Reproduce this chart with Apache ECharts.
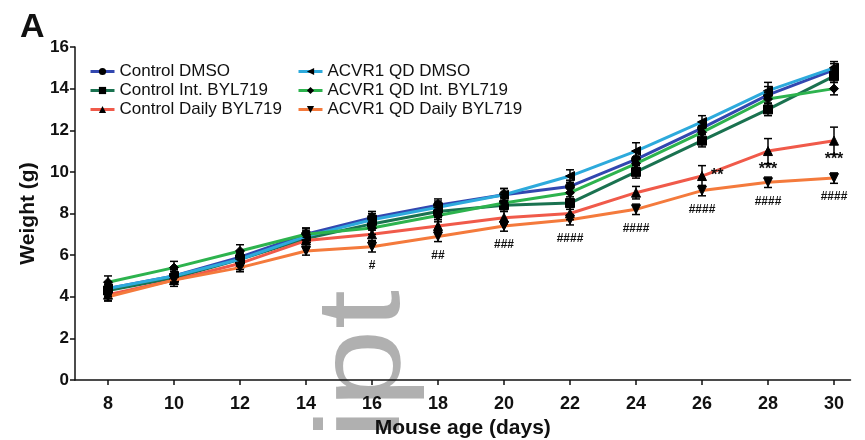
<!DOCTYPE html>
<html><head><meta charset="utf-8">
<script src="https://cdn.jsdelivr.net/npm/echarts@6/dist/echarts.min.js"></script>
<style>html,body{margin:0;padding:0;background:#fff}#c{width:865px;height:440px}</style>
</head><body><div id="c"></div>
<script>
const days = [8, 10, 12, 14, 16, 18, 20, 22, 24, 26, 28, 30];
const xTicks = [8, 10, 12, 14, 16, 18, 20, 22, 24, 26, 28, 30];
const seriesNames = ['Control DMSO', 'Control Int. BYL719', 'Control Daily BYL719', 'ACVR1 QD DMSO', 'ACVR1 QD Int. BYL719', 'ACVR1 QD Daily BYL719'];
const controlDMSO   = [4.4, 5.0, 5.9, 7.0, 7.8, 8.4, 8.9, 9.3, 10.6, 12.1, 13.7, 14.9];
const controlInt    = [4.3, 4.9, 5.8, 6.8, 7.5, 8.1, 8.4, 8.5, 10.0, 11.5, 13.0, 14.6];
const controlDaily  = [4.1, 4.8, 5.6, 6.7, 7.0, 7.4, 7.8, 8.0, 9.0, 9.8, 11.0, 11.5];
const acvrDMSO      = [4.4, 5.0, 5.8, 6.9, 7.7, 8.3, 8.9, 9.8, 11.0, 12.4, 13.9, 15.0];
const acvrInt       = [4.7, 5.4, 6.2, 7.0, 7.3, 7.9, 8.5, 9.0, 10.4, 11.9, 13.5, 14.0];
const acvrDaily     = [4.0, 4.8, 5.4, 6.2, 6.4, 6.9, 7.4, 7.7, 8.2, 9.1, 9.5, 9.7];
const errControlDMSO  = [0.3, 0.3, 0.3, 0.3, 0.3, 0.3, 0.3, 0.3, 0.4, 0.3, 0.4, 0.3];
const errControlInt   = [0.3, 0.3, 0.3, 0.3, 0.3, 0.3, 0.3, 0.3, 0.3, 0.3, 0.3, 0.3];
const errControlDaily = [0.3, 0.3, 0.3, 0.3, 0.3, 0.3, 0.3, 0.3, 0.3, 0.5, 0.6, 0.65];
const errAcvrDMSO     = [0.3, 0.3, 0.3, 0.3, 0.3, 0.3, 0.3, 0.3, 0.4, 0.3, 0.4, 0.3];
const errAcvrInt      = [0.3, 0.3, 0.3, 0.3, 0.3, 0.3, 0.3, 0.3, 0.3, 0.3, 0.3, 0.3];
const errAcvrDaily    = [0.2, 0.2, 0.2, 0.2, 0.25, 0.25, 0.25, 0.25, 0.25, 0.25, 0.25, 0.25];
const annControlDaily = ['', '', '', '', '', '', '', '', '', '**', '***', '***'];
const annAcvrDaily    = ['', '', '', '', '#', '##', '###', '####', '####', '####', '####', '####'];

const FONT = 'Liberation Sans, Arial, sans-serif';
const defs = [
  {name: seriesNames[0], vals: controlDMSO, err: errControlDMSO, color: '#3247b0', symbol: 'circle', rot: 0, ann: null},
  {name: seriesNames[1], vals: controlInt, err: errControlInt, color: '#1a7250', symbol: 'rect', rot: 0, ann: null},
  {name: seriesNames[2], vals: controlDaily, err: errControlDaily, color: '#f05a4a', symbol: 'triangle', rot: 0, ann: annControlDaily},
  {name: seriesNames[3], vals: acvrDMSO, err: errAcvrDMSO, color: '#2daadc', symbol: 'path://M0,5 L10,0 L10,10 Z', rot: 0, ann: null},
  {name: seriesNames[4], vals: acvrInt, err: errAcvrInt, color: '#2db34e', symbol: 'diamond', rot: 0, ann: null},
  {name: seriesNames[5], vals: acvrDaily, err: errAcvrDaily, color: '#f47a3c', symbol: 'triangle', rot: 180, ann: annAcvrDaily}
];

const series = [];
defs.forEach((d) => {
  series.push({
    type: 'custom', name: d.name + ' err', z: 3, silent: true,
    data: days.map((x, i) => [x, d.vals[i], d.err[i]]),
    encode: {x: 0, y: 1},
    renderItem: function (params, api) {
      const x = api.value(0), y = api.value(1), e = api.value(2);
      const top = api.coord([x, y + e]), bot = api.coord([x, y - e]);
      const w = 4;
      return {type: 'group', children: [
        {type: 'line', shape: {x1: top[0], y1: top[1], x2: bot[0], y2: bot[1]}, style: {stroke: '#000', lineWidth: 1.5}},
        {type: 'line', shape: {x1: top[0] - w, y1: top[1], x2: top[0] + w, y2: top[1]}, style: {stroke: '#000', lineWidth: 1.5}},
        {type: 'line', shape: {x1: bot[0] - w, y1: bot[1], x2: bot[0] + w, y2: bot[1]}, style: {stroke: '#000', lineWidth: 1.5}}
      ]};
    }
  });
});
defs.forEach((d, si) => {
  series.push({
    type: 'line', name: d.name, z: 2 + si * 0.1,
    symbol: d.symbol, symbolSize: 9, symbolRotate: d.rot,
    itemStyle: {color: '#000', borderColor: '#000'},
    lineStyle: {color: d.color, width: 3},
    color: d.color,
    data: days.map((x, i) => {
      const item = {value: [x, d.vals[i]]};
      if (d.ann && d.ann[i]) {
        const star = d.ann[i].charAt(0) === '*';
        const right = d.ann[i] === '**';
        item.label = {show: true, formatter: d.ann[i], position: right ? 'right' : 'bottom',
          distance: right ? 4 : (star ? 6 : 8), color: '#111', fontSize: star ? 16 : 12,
          fontWeight: 'bold', fontFamily: FONT};
      }
      return item;
    })
  });
});
const legendData = seriesNames.map((n, i) => ({name: n, itemStyle: {color: '#000'}, lineStyle: {color: defs[i].color, width: 3}}));
const legendText = {fontFamily: FONT, fontSize: 17, color: '#111', lineHeight: 17};

const chart = echarts.init(document.getElementById('c'), null, {renderer: 'canvas'});
chart.setOption({
  animation: false,
  backgroundColor: '#fff',
  title: {text: 'A', left: 15, top: 6, textStyle: {fontFamily: FONT, fontSize: 34, fontWeight: 'bold', color: '#111'}},
  graphic: [{type: 'text', x: 366, y: 290, rotation: Math.PI / 2, scaleX: 1.2, scaleY: 1, z: -10,
    style: {text: 'Author Manuscript', fill: '#b0b0b0', font: '118px ' + FONT, textAlign: 'right', textVerticalAlign: 'middle'}}],
  legend: [
    {data: legendData.slice(0, 3), orient: 'vertical', left: 84, top: 58, itemGap: 2, itemWidth: 24, itemHeight: 9, textStyle: legendText},
    {data: legendData.slice(3), orient: 'vertical', left: 292, top: 58, itemGap: 2, itemWidth: 24, itemHeight: 9, textStyle: legendText}
  ],
  grid: {left: 75, right: 14.5, top: 47, bottom: 60, outerBoundsMode: 'none', containLabel: false},
  xAxis: {
    type: 'value', min: 7, max: 30.5,
    name: 'Mouse age (days)', nameLocation: 'middle', nameGap: 37,
    nameTextStyle: {fontFamily: FONT, fontSize: 21, fontWeight: 'bold', color: '#111'},
    axisLine: {lineStyle: {color: '#111', width: 1.5}},
    axisTick: {show: true, customValues: xTicks, length: 5, lineStyle: {color: '#111', width: 1.5}},
    axisLabel: {customValues: xTicks, fontFamily: FONT, fontSize: 18, fontWeight: 'bold', color: '#111', margin: 15},
    splitLine: {show: false}
  },
  yAxis: {
    type: 'value', min: 0, max: 16, interval: 2,
    name: 'Weight (g)', nameLocation: 'middle', nameGap: 36,
    nameTextStyle: {fontFamily: FONT, fontSize: 21, fontWeight: 'bold', color: '#111'},
    axisLine: {show: true, lineStyle: {color: '#111', width: 1.5}},
    axisTick: {show: true, length: 5, lineStyle: {color: '#111', width: 1.5}},
    axisLabel: {fontFamily: FONT, fontSize: 17, fontWeight: 'bold', color: '#111', margin: 6},
    splitLine: {show: false}
  },
  series: series
});
</script></body></html>
